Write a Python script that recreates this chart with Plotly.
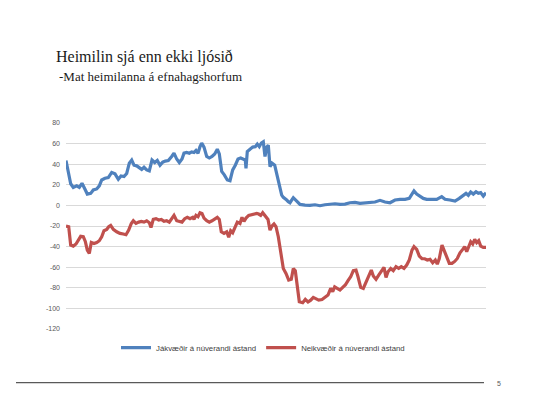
import plotly.graph_objects as go

# ---- data (time index along the survey period) ----
blue_t = [0, 2.3, 4.7, 7.3, 10.7, 13.3, 16, 19, 21.3, 24.7, 27.3, 30.7, 33.3, 35.7, 39, 42.3, 45.7, 49,
          52.3, 55, 58, 60.7, 63.3, 65.7, 68, 70.7, 73.3, 75.7, 78, 80.7, 83.3, 86, 88.7, 91.3, 94, 96.7,
          99.3, 102.3, 105.7, 108, 110.7, 113.3, 116, 118, 120.7, 123.3, 125.7, 128, 130, 132, 134, 135.7,
          138, 140.7, 143.3, 146, 148.7, 151.3, 153.3, 155.7, 158.3, 161.3, 164, 166.7, 169.3, 172, 174.7,
          177.3, 179.3, 180, 181.3, 184, 186.7, 189.3, 191.3, 193.3, 195.3, 197.3, 199, 200.7, 202.3, 204,
          206, 208.7, 210.7, 212.7, 214, 215.7, 217.3, 219, 220.7, 222.3, 224, 227.3, 230.7, 234, 239, 244,
          249, 254, 259, 264, 269, 274, 279, 284, 289, 294, 299, 304, 309, 314, 319, 324, 329, 334, 339,
          343.3, 345.7, 348, 350.7, 354, 357.3, 360.7, 365.7, 370.7, 375.7, 379, 384, 389, 393.3, 396.7,
          400, 402.3, 404.7, 407.3, 410, 412.3, 414.7, 417.3, 420]
blue_v = [43.6, 33, 21, 17.5, 19, 17.5, 21.5, 15.6, 11, 11.7, 15, 16, 19, 24.7, 26.3, 27, 32, 30.6,
          25.4, 28.6, 28, 31, 41, 44, 39, 38.4, 37, 35, 37, 34.5, 33.5, 44, 41.6, 43.6, 39, 42,
          43, 43.6, 47.5, 50.7, 45, 41.6, 45, 50.7, 51.4, 50.7, 52, 51.4, 53.3, 50.7, 57, 60.5,
          56.6, 47.5, 46, 47.5, 50, 54.6, 50, 33, 29.6, 24.7, 24, 34.5, 39, 45, 46,
          45, 44, 36, 52.4, 54.6, 56.6, 57, 59.5, 57, 60.5, 61.8, 47.5, 56.6, 58.5, 37.7,
          41, 39, 31, 21.5, 15, 10, 7.8, 6.8, 5.2, 3.6, 2.6, 7.5, 4.5, 1, 0.3, 0,
          0.6, -0.3, 0.6, 1.3, 1.6, 1, 1.3, 2.6, 3, 2, 2.3, 3, 3.3, 4.9, 3.3, 2.6, 5.2, 5.9, 5.9,
          6.8, 10, 14, 11, 8.5, 6.8, 5.9, 6.2, 5.9, 8.5, 5.9, 5.2, 4.2, 6.8, 9,
          11.7, 9.8, 13, 11, 13.3, 11.7, 12.4, 9, 12.4]

red_t = [0, 2.7, 4.7, 7.3, 10, 12.3, 14.7, 17.3, 19.3, 21.3, 23.3, 25.3, 28, 30.7, 33.3, 35.7, 38, 40.7,
         42.7, 44.7, 47.3, 50.7, 54, 57.3, 60, 62.7, 65.3, 67.3, 70, 72.7, 75.3, 78, 80.7, 83.3, 85, 87.3,
         90, 92.7, 95.3, 98, 100.7, 103.3, 106, 108, 110.7, 113.3, 116, 118.7, 121.3, 124, 126.7, 128, 130,
         132, 134, 136, 138, 140.7, 143.3, 146, 148.7, 151.3, 153.3, 155.3, 158, 160.7, 162.7, 164.7, 166.7,
         168.7, 171.3, 174, 176, 178, 180, 182.7, 185.3, 188, 190.7, 192.7, 194.7, 196.7, 199.3, 202, 204,
         206, 208, 210, 212.3, 214.7, 217.3, 220, 222.7, 225.3, 227.3, 229.3, 231.3, 233.3, 236.7, 239.3,
         242, 244.7, 247.3, 250, 252.7, 256, 259.3, 262, 264.7, 266.7, 268.7, 271.3, 274, 276.7, 279.3, 282,
         284.7, 287.3, 290, 292, 294.7, 297.3, 300, 302.7, 305.3, 307.3, 310, 312.7, 315.3, 318, 320, 322,
         324.7, 327.3, 330, 332.7, 335.3, 338, 340.7, 343.3, 346, 348, 350.7, 353.3, 356, 358.7, 361.3, 364,
         366.7, 369.3, 371.3, 373.3, 376, 378, 380.7, 383.3, 386, 388.7, 391.3, 394, 396.7, 398.7, 400.7,
         402.7, 404.7, 406.7, 408.7, 410.7, 412.7, 414.7, 417.3, 420]
red_v = [-20, -20.7, -38.5, -39.5, -37.5, -33, -30, -30.4, -35, -43.4, -46.6, -36, -37, -36, -34.3, -30.4, -24.6, -23.3,
         -20.7, -19.4, -23.3, -25.6, -27.2, -27.8, -28.5, -24, -17.5, -14.9, -17.5, -16.2, -15.5, -16.2, -14.9, -16.8, -21.4, -13.6,
         -12.9, -14.2, -13.6, -15.5, -14.9, -16.2, -12.9, -9.7, -14.9, -15.5, -16.2, -12.9, -11.6, -12.9, -11.6, -13.6, -9.7,
         -11, -7.1, -7.8, -12.3, -14.9, -16.2, -14.9, -13.6, -11.6, -13.6, -25.6, -27.2, -25.6, -31, -24.6, -26.5,
         -22, -16.2, -17.5, -11.6, -15.5, -12.3, -9.7, -9.1, -9.1, -7.8, -8.4, -9.7, -7.1, -10.4, -13.6, -24,
         -20, -18.1, -20.7, -30.4, -46.6, -61.2, -66, -72.5, -71.8, -61.2, -63.4, -81.5, -93.5, -94.5, -91.3,
         -93.8, -92, -89.3, -90.6, -92, -91.3, -89.3, -87, -80.6, -83.8, -79, -80.3, -82.2, -79.6, -77.3, -73,
         -69.3, -63.4, -62.8, -69.3, -79.6, -80.6, -74, -67.6, -62.8, -68.6, -71.8, -67.6, -63.4, -60.2, -69.9, -64.4,
         -61.2, -63.4, -59.5, -61.2, -59.5, -61.2, -57.9, -53, -43.4, -40.1, -42.7, -49.2, -51.8, -51.8, -53, -52.4,
         -55.7, -53, -57, -51.5, -38.5, -44, -50.5, -56.3, -56.3, -54.4, -51.5, -46, -42.7, -40.1, -45,
         -39.5, -35.3, -37.5, -33, -36.2, -34.3, -39.5, -40.8, -40.8]

series_names = ["Jákvæðir á núverandi ástand", "Neikvæðir á núverandi ástand"]
y_ticks = [80, 60, 40, 20, 0, -20, -40, -60, -80, -100, -120]
title_text = "Heimilin sjá enn ekki ljósið"
subtitle_text = "-Mat heimilanna á efnahagshorfum"
page_number = "5"

# ---- layout geometry (pixels) ----
W, H = 559, 394
L, R = 66, 486
T, B = 123.3, 329.3


def px(x):
    return (x - L) / (R - L)


def py(y):
    return (B - y) / (B - T)


fig = go.Figure()
fig.add_trace(go.Scatter(x=blue_t, y=blue_v, mode="lines", name=series_names[0],
                         line=dict(color="#4f81bd", width=3.2)))
fig.add_trace(go.Scatter(x=red_t, y=red_v, mode="lines", name=series_names[1],
                         line=dict(color="#c0504d", width=3.2)))

fig.update_layout(
    width=W, height=H,
    margin=dict(l=L, r=W - R, t=T, b=H - B),
    paper_bgcolor="white", plot_bgcolor="white",
    showlegend=True,
    legend=dict(orientation="h", x=px(263), xanchor="center", y=py(348), yanchor="middle",
                font=dict(family="Liberation Sans", size=7.8, color="#404040"),
                bgcolor="rgba(0,0,0,0)", itemwidth=30, tracegroupgap=0),
    xaxis=dict(range=[0, 420], showgrid=False, showticklabels=False, zeroline=False,
               showline=False, ticks=""),
    yaxis=dict(range=[-120, 80], tickvals=y_ticks, ticktext=[str(v) for v in y_ticks],
               showgrid=True, gridcolor="#d9d9d9", gridwidth=1, zeroline=False,
               showline=False, ticks="", ticklabelstandoff=5,
               tickfont=dict(family="Liberation Sans", size=7, color="#595959")),
    font=dict(family="Liberation Sans"),
)

fig.add_annotation(text=title_text, xref="paper", yref="paper", x=px(54), y=py(57),
                   xanchor="left", yanchor="middle", showarrow=False,
                   font=dict(family="Liberation Serif", size=16, color="#1a1a1a"))
fig.add_annotation(text=subtitle_text, xref="paper", yref="paper", x=px(57), y=py(77),
                   xanchor="left", yanchor="middle", showarrow=False,
                   font=dict(family="Liberation Serif", size=13, color="#1a1a1a"))
fig.add_shape(type="line", xref="paper", yref="paper", x0=px(16), x1=px(484), y0=py(383), y1=py(383),
              line=dict(color="#595959", width=1.2))
fig.add_annotation(text=page_number, xref="paper", yref="paper", x=px(499), y=py(384),
                   xanchor="center", yanchor="middle", showarrow=False,
                   font=dict(family="Liberation Sans", size=7, color="#595959"))

fig.write_html("out.html", config={"displayModeBar": False},
               post_script="document.body.style.margin='0';document.body.style.overflow='hidden';")
